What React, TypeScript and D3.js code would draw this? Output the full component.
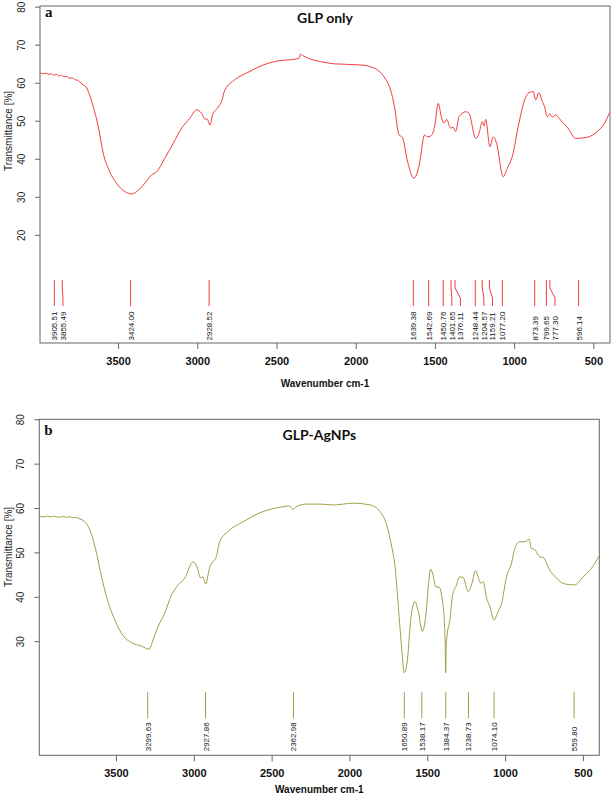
import React from 'react';
import * as d3 from 'd3';

// ---------- Data ----------
const xTicks = [3500, 3000, 2500, 2000, 1500, 1000, 500];

const glpYTicks = [20, 30, 40, 50, 60, 70, 80];
const agYTicks = [30, 40, 50, 60, 70, 80];

const glpWavenumber = [
  3996, 3975, 3955, 3940, 3925, 3910, 3891, 3875, 3860, 3845, 3830, 3807, 3790, 3775, 3760, 3745, 3723, 3705, 3691,
  3660, 3628, 3597, 3565, 3513, 3460, 3418, 3386, 3344, 3292, 3260, 3208, 3155, 3102, 3050, 3008, 2976, 2955,
  2940, 2923, 2907, 2871, 2850, 2829, 2766, 2671, 2587, 2503, 2376, 2360, 2351, 2340, 2334, 2310, 2271, 2225,
  2141, 1972, 1888, 1825, 1783, 1758, 1730, 1709, 1678, 1636, 1604, 1568, 1552, 1530, 1505, 1482, 1463, 1446,
  1429, 1404, 1387, 1372, 1351, 1309, 1288, 1246, 1225, 1204, 1193, 1183, 1156, 1135, 1114, 1072, 1047, 1015,
  973, 937, 910, 882, 867, 847, 825, 811, 794, 777, 762, 741, 710, 660, 615, 541, 478, 440, 400,
];
const glpTransmittance = [
  62.7, 62.5, 62.6, 62.3, 62.5, 62.1, 62.3, 61.9, 62.1, 61.7, 61.8, 61.3, 61.4, 60.9, 60.8, 60.3, 59.6, 59.0, 57.8,
  53.8, 48.6, 41.6, 37.6, 33.7, 31.5, 30.9, 31.5, 33.2, 35.9, 36.7, 40.3, 44.2, 48.2, 50.8, 53.0, 52.1, 50.6,
  50.5, 49.0, 51.7, 53.7, 55.2, 58.2, 60.9, 63.1, 64.8, 65.8, 66.4, 66.6, 67.7, 67.3, 67.2, 66.7, 66.1, 65.7,
  65.1, 64.8, 64.0, 61.7, 58.2, 53.8, 46.4, 45.8, 39.8, 35.0, 38.1, 46.4, 45.9, 46.1, 48.6, 54.7, 51.2, 49.5,
  50.5, 48.2, 48.4, 47.3, 51.2, 52.5, 52.1, 45.5, 46.8, 49.9, 48.8, 50.5, 43.3, 45.9, 44.2, 35.4, 37.6, 40.7,
  49.5, 55.6, 57.5, 57.8, 55.6, 57.5, 55.2, 53.8, 51.2, 51.9, 51.1, 51.7, 50.3, 48.0, 45.5, 45.8, 47.3, 49.0, 52.3,
];

const agWavenumber = [
  3996, 3970, 3945, 3920, 3900, 3875, 3842, 3820, 3800, 3780, 3760, 3740, 3714, 3671, 3628, 3596, 3564, 3511,
  3457, 3404, 3340, 3290, 3265, 3233, 3190, 3147, 3104, 3062, 3008, 2982, 2961, 2944, 2927, 2901, 2880, 2859,
  2837, 2784, 2687, 2559, 2431, 2388, 2367, 2345, 2281, 2191, 2106, 1978, 1871, 1807, 1764, 1732, 1710, 1689,
  1667, 1651, 1631, 1610, 1582, 1561, 1535, 1511, 1497, 1481, 1464, 1449, 1428, 1407, 1392, 1388, 1385, 1382,
  1377, 1358, 1341, 1320, 1294, 1273, 1241, 1219, 1193, 1176, 1161, 1144, 1122, 1101, 1075, 1048, 1026, 994,
  962, 941, 909, 876, 849, 834, 812, 780, 759, 716, 673, 620, 556, 502, 449, 400,
];
const agTransmittance = [
  58.3, 58.1, 58.3, 58.1, 58.3, 58.0, 58.2, 58.0, 58.2, 57.9, 58.0, 57.7, 57.3, 55.2, 49.9, 44.6, 40.1, 34.9,
  31.3, 29.8, 29.0, 28.3, 30.4, 33.4, 36.4, 40.5, 42.8, 44.3, 48.0, 46.8, 44.4, 44.6, 43.0, 46.8, 48.0, 49.1,
  52.5, 54.8, 57.0, 59.3, 60.4, 60.6, 59.8, 60.4, 61.0, 61.0, 60.8, 61.2, 60.8, 59.3, 56.3, 51.4, 46.9, 37.9,
  28.1, 23.0, 25.9, 34.9, 39.0, 36.8, 32.3, 36.4, 42.4, 46.3, 44.6, 42.3, 42.3, 39.4, 33.4, 29.0, 23.0, 28.5,
  31.1, 34.9, 40.5, 42.4, 44.6, 44.5, 41.3, 42.8, 46.0, 44.6, 43.2, 43.5, 39.8, 37.9, 34.9, 36.8, 38.6, 44.6,
  47.7, 51.0, 52.5, 52.5, 53.1, 51.0, 50.7, 49.1, 49.0, 46.1, 44.3, 43.0, 42.8, 44.6, 46.5, 49.3,
];

const glpPeaks = [
  3905.51, 3855.49, 3424.0, 2928.52, 1639.38, 1542.69, 1450.76, 1401.65, 1376.11, 1248.44, 1204.57, 1159.21,
  1077.2, 873.39, 799.65, 777.3, 596.14,
];
const agPeaks = [3299.63, 2927.86, 2362.98, 1650.89, 1538.17, 1384.37, 1238.73, 1074.1, 559.8];

// ---------- Panel ----------
type PanelProps = {
  left: number; right: number; top: number; bottom: number;
  yDomain: [number, number];
  yTicks: number[];
  wn: number[]; tr: number[];
  peaks: number[];
  color: string;
  title: string; letter: string;
  titleY: number; letterY: number;
  yTitleY: number;
  labelOffset: number;
  xTitleOffset: number;
};

function Panel(p: PanelProps) {
  const x = d3.scaleLinear().domain([3996, 398]).range([p.left, p.right]);
  const y = d3.scaleLinear().domain(p.yDomain).range([p.bottom, p.top]);
  const pts = p.wn.map((w, i) => [w, p.tr[i]] as [number, number]);
  const line = d3.line<[number, number]>().x(d => x(d[0])).y(d => y(d[1])).curve(d3.curveMonotoneX);

  // peak label positions (spread apart when too close)
  const sorted = p.peaks.map(w => ({ w, px: x(w) })).sort((a, b) => a.px - b.px);
  const placed: { w: number; px: number; lx: number }[] = [];
  sorted.forEach((d, i) => {
    const lx = i === 0 ? d.px : Math.max(d.px, placed[i - 1].lx + 8.6);
    placed.push({ ...d, lx });
  });
  const lTop = p.bottom - 63;
  const lEnd = p.bottom - 37;
  const cx = (p.left + p.right) / 2;

  return (
    <g>
      <rect x={p.left} y={p.top} width={p.right - p.left} height={p.bottom - p.top} fill="none" stroke="#666" strokeWidth={1} />
      {/* y axis ticks */}
      {p.yTicks.map(t => (
        <g key={t}>
          <line x1={p.left - 5} x2={p.left} y1={y(t)} y2={y(t)} stroke="#666" />
          <text transform={`translate(${p.left - 15},${y(t)}) rotate(-90)`} textAnchor="middle"
            fontFamily="Liberation Sans, Arial, sans-serif" fontSize={10} fill="#222">{t}</text>
        </g>
      ))}
      {/* x axis ticks */}
      {xTicks.map(t => (
        <g key={t}>
          <line x1={x(t)} x2={x(t)} y1={p.bottom} y2={p.bottom + 6} stroke="#666" />
          <text x={x(t)} y={p.bottom + 22} textAnchor="middle" fontFamily="Liberation Sans, Arial, sans-serif"
            fontSize={11} fontWeight="bold" fill="#111">{t}</text>
        </g>
      ))}
      <text x={cx} y={p.bottom + p.xTitleOffset} textAnchor="middle" fontFamily="Liberation Sans, Arial, sans-serif"
        fontSize={10} fontWeight="bold" fill="#111">Wavenumber cm-1</text>
      <text transform={`translate(11.5,${p.yTitleY}) rotate(-90)`} textAnchor="middle"
        fontFamily="Liberation Sans, Arial, sans-serif" fontSize={10} fill="#222">Transmittance [%]</text>
      {/* spectrum */}
      <path d={line(pts) || ''} fill="none" stroke={p.color} strokeWidth={1} />
      {/* peaks */}
      {placed.map(d => (
        <g key={d.w}>
          <path d={Math.abs(d.lx - d.px) < 0.5
            ? `M${d.px},${lTop}V${lEnd}`
            : `M${d.px},${lTop}V${lTop + 8}L${d.lx},${lTop + 18}V${lEnd}`}
            fill="none" stroke={p.color} strokeWidth={1} />
          <text transform={`translate(${d.lx + 3},${p.bottom - p.labelOffset}) rotate(-90)`}
            fontFamily="Liberation Sans, Arial, sans-serif" fontSize={8} fill="#111">{d.w.toFixed(2)}</text>
        </g>
      ))}
      <text x={p.left + 5} y={p.letterY} fontFamily="Liberation Serif, Times New Roman, serif" fontSize={15}
        fontWeight="bold" fill="#111">{p.letter}</text>
      <text x={cx} y={p.titleY} textAnchor="middle" fontFamily="Lato, Open Sans, sans-serif" fontSize={14}
        fontWeight="bold" fill="#111">{p.title}</text>
    </g>
  );
}

export default function App() {
  return (
    <svg width={612} height={797} style={{ position: 'absolute', left: 0, top: 0, background: '#fff' }}>
      <rect width={612} height={797} fill="#fff" />
      <Panel left={40} right={610} top={6} bottom={343} yDomain={[-8.3, 80.3]} yTicks={glpYTicks}
        wn={glpWavenumber} tr={glpTransmittance} peaks={glpPeaks} color="#f23c3c"
        title="GLP only" letter="a" titleY={23} letterY={17} yTitleY={131} labelOffset={2.5} xTitleOffset={44} />
      <Panel left={39.3} right={599.3} top={419.3} bottom={755.3} yDomain={[4.4, 80.1]} yTicks={agYTicks}
        wn={agWavenumber} tr={agTransmittance} peaks={agPeaks} color="#a39d45"
        title="GLP-AgNPs" letter="b" titleY={440} letterY={435} yTitleY={547} labelOffset={4} xTitleOffset={38} />
    </svg>
  );
}
